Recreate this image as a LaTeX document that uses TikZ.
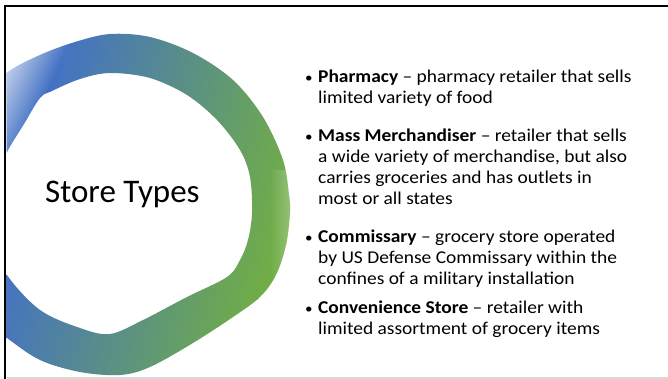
\documentclass[tikz,border=0pt]{standalone}
\usepackage{fontspec}
\setmainfont{Carlito}
\newfontfamily\bodyfont[FakeStretch=1.08]{Carlito}
\usetikzlibrary{fadings}
\definecolor{ringblue}{HTML}{4472C4}
\definecolor{ringgreen}{HTML}{70AD47}
\definecolor{rulegray}{HTML}{D9D9D9}
\newcommand{\bulmark}{\makebox[0pt][r]{{\fontsize{14}{14}\selectfont •}\hspace{5.5pt}}}
\begin{document}
\begin{tikzpicture}[x=1pt,y=-1pt,
  bul/.style={anchor=base west, inner sep=0pt, font=\bodyfont\fontsize{18}{21}\selectfont},
  ttl/.style={anchor=base west, inner sep=0pt, font=\fontsize{33}{40}\selectfont},
  frame/.style={line width=2.3pt, black},
  baserule/.style={line width=1.5pt, rulegray}]
\useasboundingbox (0,0) rectangle (668,379);
\fill[white] (0,0) rectangle (668,379);

% ring
\path[save path=\ringpath]
  plot[smooth cycle, tension=0.55] coordinates {(7,73) (40,55) (75,42) (110,34) (150,37) (193,53) (233,80) (263,117) (283,160) (289,195) (290,213) (286,245) (276,275) (260,297) (233,317) (193,343) (150,367) (120,375) (80,372) (40,360) (7,338) (-15,320) (-35,270) (-40,210) (-33,150) (-15,100)}
  plot[smooth cycle, tension=0.55] coordinates {(7,152) (24,124) (40,98) (52,91) (80,79) (110,73) (150,78) (187,95) (217,120) (240,150) (250,177) (252,213) (248,240) (240,260) (227,277) (187,297) (143,320) (110,334) (80,328) (40,310) (7,275) (-8,240) (-10,213) (-5,180)};
\begin{scope}
  \clip (6.5,0) rectangle (668,379);
  \begin{scope}[even odd rule]
    \clip[use path=\ringpath];
    \begin{scope}[transform canvas={shift={(150,200)}, rotate=-15}]
      \fill[ringblue] (-400,-400) rectangle (-124,400);
      \fill[ringgreen] (129,-400) rectangle (400,400);
      \shade[left color=ringblue, right color=ringgreen] (-125,-400) rectangle (130,400);
    \end{scope}
    \begin{scope}[transform canvas={shift={(7,70)}, rotate=-25}]
      \fill[white, opacity=0.8, path fading=east] (-10,-150) rectangle (45,250);
    \end{scope}
    \fill[white, opacity=0.3, path fading=west] (270,170) rectangle (294,300);
  \end{scope}
\end{scope}

% frame
\draw[frame] (5.3,379) -- (5.3,6.2) -- (668,6.2);
\draw[baserule] (6.5,378) -- (668,378);

% title
\node[ttl] (title) at (45,203) {Store Types};

% bullets
\node[bul] (pharmacy) at (318,83) {\parbox[t]{345pt}{\raggedright\bulmark\textbf{Pharmacy} – pharmacy retailer that sells\\limited variety of food}};
\node[bul] (mass) at (318,142) {\parbox[t]{345pt}{\raggedright\bulmark\textbf{Mass Merchandiser} – retailer that sells\\a wide variety of merchandise, but also\\carries groceries and has outlets in\\most or all states}};
\node[bul] (commissary) at (318,242) {\parbox[t]{345pt}{\raggedright\bulmark\textbf{Commissary} – grocery store operated\\by US Defense Commissary within the\\confines of a military installation}};
\node[bul] (convenience) at (318,313) {\parbox[t]{345pt}{\raggedright\bulmark\textbf{Convenience Store} – retailer with\\limited assortment of grocery items}};
\end{tikzpicture}
\end{document}
